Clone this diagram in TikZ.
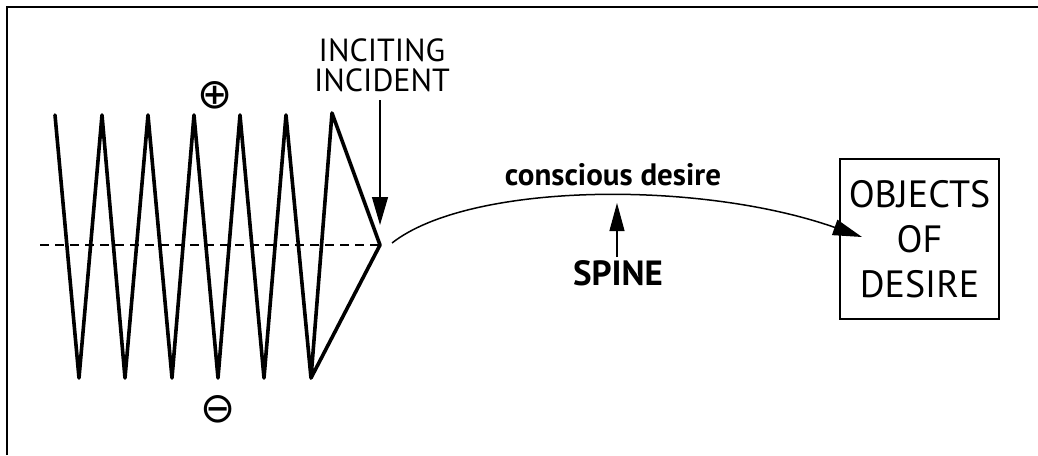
\documentclass[tikz,border=0pt]{standalone}
\usepackage{fontspec}
\setmainfont{PT Sans}
\newfontfamily\symfont{DejaVu Sans}
\usetikzlibrary{arrows.meta}
\begin{document}
\begin{tikzpicture}[x=1pt,y=-1pt,
  zig/.style={line width=3.6pt,line join=round,line cap=round},
  thinline/.style={line width=1.1pt},
  lbl/.style={inner sep=0pt,align=center},
  bigarrow/.style={-{Triangle[length=28pt,width=16pt]}}]
\useasboundingbox (0,0) rectangle (1038,455);
% frame
\draw[line width=2.5pt] (7,455) -- (7,7) -- (1038,7);
% zigzag coordinates
\coordinate (t1) at (55,115);
\coordinate (b1) at (79,378);
\coordinate (t2) at (102,115);
\coordinate (b2) at (125,378);
\coordinate (t3) at (148,115);
\coordinate (b3) at (172,378);
\coordinate (t4) at (194,115);
\coordinate (b4) at (218,378);
\coordinate (t5) at (240,115);
\coordinate (b5) at (264,378);
\coordinate (t6) at (286,115);
\coordinate (b6) at (311,378);
\coordinate (t7) at (332,113);
\coordinate (apex) at (380,245);
\coordinate (dashstart) at (40,245);
% dashed axis
\draw[line width=1.2pt,dash pattern=on 9pt off 6pt] (dashstart) -- (apex);
% zigzag
\draw[zig] (t1) -- (b1) -- (t2) -- (b2) -- (t3) -- (b3) -- (t4) -- (b4) -- (t5) -- (b5) -- (t6) -- (b6) -- (t7) -- (apex) -- (b6);
% plus / minus
\node[lbl,font=\symfont\fontsize{42}{42}\selectfont] (plus) at (215,95) {⊕};
\node[lbl,font=\symfont\fontsize{42}{42}\selectfont] (minus) at (218,409) {⊖};
% inciting incident
\node[lbl,font=\fontsize{32}{30}\selectfont] (inciting) at (382,65) {INCITING\\INCIDENT};
\coordinate (inctip) at (380,225);
\draw[thinline,bigarrow] (380,100) -- (inctip);
% spine curve
\coordinate (curvestart) at (392,243);
\coordinate (curveend) at (862,237);
\draw[line width=1.5pt,-{Triangle[length=29pt,width=16pt]}] (curvestart) .. controls (470,182) and (700,180) .. (curveend);
\node[lbl,font=\bfseries\fontsize{31}{31}\selectfont,anchor=base] (conscious) at (613,185) {conscious desire};
% spine
\node[lbl,font=\bfseries\fontsize{35}{35}\selectfont] (spine) at (618,273) {SPINE};
\coordinate (spinetip) at (617,203);
\draw[thinline,-{Triangle[length=28pt,width=15pt]}] (617,257) -- (spinetip);
% objects box
\node[draw,line width=1.5pt,minimum width=159pt,minimum height=160pt,inner sep=0pt,align=center,font=\fontsize{38}{45}\selectfont] (objects) at (919.5,239) {OBJECTS\\OF\\DESIRE};
\end{tikzpicture}
\end{document}
